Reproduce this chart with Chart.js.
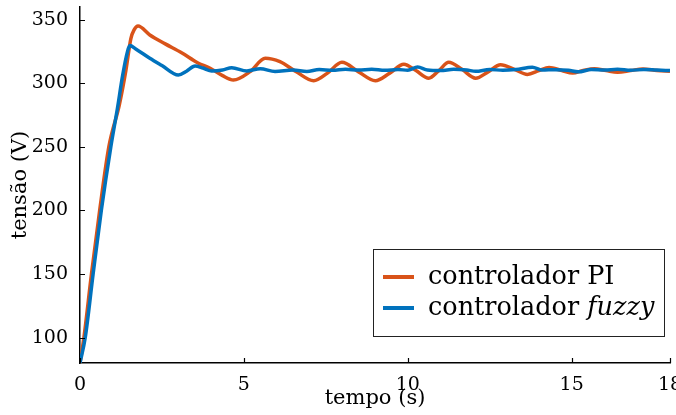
<!DOCTYPE html>
<html>
<head>
<meta charset="utf-8">
<script src="https://cdn.jsdelivr.net/npm/chart.js@4/dist/chart.umd.min.js"></script>
<style>
    html, body { margin: 0; padding: 0; background: #fff; }
    #chart { display: block; }
</style>
</head>
<body>
<canvas id="chart" width="676" height="415"></canvas>
<script>
// tick values
const xTicks = [0, 5, 10, 15, 18];
const yTicks = [100, 150, 200, 250, 300, 350];

// controlador PI
const piTime = [0, 0.12, 0.35, 0.6, 0.88, 1.2, 1.4, 1.55, 1.65, 1.77, 2.13, 2.6, 3.1, 3.6, 3.97, 4.35, 4.68,
    5.19, 5.65, 6.1, 6.6, 7.13, 7.55, 7.99, 8.5, 9.01, 9.45, 9.88, 10.25, 10.64, 10.95, 11.25, 11.65,
    12.07, 12.45, 12.83, 13.25, 13.65, 14.0, 14.31, 14.7, 15.03, 15.35, 15.69, 16.05, 16.4, 16.8, 17.17, 17.6, 18];
const piVolts = [80, 100, 150, 200, 250, 283, 310, 335, 342, 345, 338, 331, 324, 316, 311.8, 306, 302.6,
    309.2, 319.7, 317, 309, 302, 308, 316.5, 309, 302, 308, 315, 310, 304, 310, 316.5, 311,
    304, 309, 314.5, 311, 307, 310, 312.5, 310, 308, 310, 311.5, 310, 308.7, 310, 311.3, 310, 309.5];

// controlador fuzzy
const fuzzyTime = [0, 0.16, 0.4, 0.65, 0.94, 1.14, 1.3, 1.45, 1.52, 1.7, 2.13, 2.5, 3.0, 3.25, 3.51, 3.75, 4.02,
    4.35, 4.63, 5.09, 5.5, 5.95, 6.5, 6.92, 7.3, 7.7, 8.1, 8.5, 8.9, 9.3, 9.7, 10.0, 10.3, 10.6,
    11.0, 11.4, 11.8, 12.07, 12.5, 12.9, 13.3, 13.8, 14.1, 14.5, 14.9, 15.2, 15.6, 16.0, 16.4, 16.8, 17.2, 17.6, 18];
const fuzzyVolts = [80, 100, 150, 200, 250, 280, 306, 325, 329.7, 327, 319.7, 314, 306.5, 309.5, 313.6, 312, 309.7,
    310.5, 312.3, 309.7, 311.5, 309.3, 310.5, 309.3, 310.8, 310.2, 311, 310.4, 311, 310.2, 310.8, 310.3, 312.8, 310.5,
    310, 311, 310.4, 309.4, 310.8, 310.3, 310.9, 312.6, 310.4, 310.7, 310.2, 309, 310.8, 310.4, 311, 310.2, 310.9, 310.4, 310];

const piPoints = piTime.map((t, i) => ({ x: t, y: piVolts[i] }));
const fuzzyPoints = fuzzyTime.map((t, i) => ({ x: t, y: fuzzyVolts[i] }));

const serif = "'DejaVu Serif', 'Liberation Serif', serif";

// inward tick marks on both axes
const innerTicks = {
    id: "innerTicks",
    afterDraw(chart) {
        const ctx = chart.ctx;
        const xs = chart.scales.x, ys = chart.scales.y;
        const area = chart.chartArea;
        ctx.save();
        ctx.strokeStyle = "#000";
        ctx.lineWidth = 1.2;
        ctx.beginPath();
        xTicks.forEach(v => {
            const px = Math.round(xs.getPixelForValue(v)) + 0.5;
            ctx.moveTo(px, area.bottom);
            ctx.lineTo(px, area.bottom - 5);
        });
        yTicks.forEach(v => {
            const py = Math.round(ys.getPixelForValue(v)) + 0.5;
            ctx.moveTo(area.left, py);
            ctx.lineTo(area.left + 5, py);
        });
        ctx.stroke();
        ctx.restore();
    }
};

// boxed legend in the lower right, "fuzzy" in italics
const boxLegend = {
    id: "boxLegend",
    afterDraw(chart) {
        const ctx = chart.ctx;
        const sets = chart.data.datasets;
        const box = { x: 373.5, y: 249.5, w: 291, h: 87 };
        ctx.save();
        ctx.fillStyle = "#fff";
        ctx.fillRect(box.x, box.y, box.w, box.h);
        ctx.strokeStyle = "#222";
        ctx.lineWidth = 1;
        ctx.strokeRect(box.x, box.y, box.w, box.h);

        const rows = [
            { y: 277, parts: [["controlador PI", "normal"]] },
            { y: 308, parts: [["controlador ", "normal"], ["fuzzy", "italic"]] }
        ];
        ctx.textBaseline = "middle";
        ctx.fillStyle = "#000";
        rows.forEach((row, i) => {
            ctx.strokeStyle = sets[i].borderColor;
            ctx.lineWidth = 4;
            ctx.beginPath();
            ctx.moveTo(383, row.y);
            ctx.lineTo(414, row.y);
            ctx.stroke();
            let tx = 428;
            row.parts.forEach(([txt, style]) => {
                ctx.font = style + " 25.5px " + serif;
                ctx.fillText(txt, tx, row.y);
                tx += ctx.measureText(txt).width;
            });
        });
        ctx.restore();
    }
};

new Chart(document.getElementById("chart"), {
    type: "line",
    data: {
        datasets: [
            {
                label: "controlador PI",
                data: piPoints,
                borderColor: "#D95319",
                borderWidth: 3.5,
                pointRadius: 0,
                cubicInterpolationMode: "monotone",
                order: 2
            },
            {
                label: "controlador fuzzy",
                data: fuzzyPoints,
                borderColor: "#0072BD",
                borderWidth: 3.5,
                pointRadius: 0,
                cubicInterpolationMode: "monotone",
                order: 1
            }
        ]
    },
    options: {
        responsive: false,
        animation: false,
        devicePixelRatio: 1,
        layout: { padding: { top: 7, right: 6, left: 0, bottom: 0 } },
        plugins: {
            legend: { display: false },
            tooltip: { enabled: false }
        },
        scales: {
            x: {
                type: "linear",
                min: 0,
                max: 18,
                afterBuildTicks: s => { s.ticks = xTicks.map(v => ({ value: v })); },
                afterFit: s => { s.height = 52; s.paddingLeft = 0; s.paddingRight = 0; },
                grid: { display: false },
                border: { display: true, color: "#000", width: 1.5 },
                ticks: { color: "#000", padding: 3, maxRotation: 0, autoSkip: false, font: { family: serif, size: 19 } },
                title: { display: true, text: "tempo (s)", color: "#000", font: { family: serif, size: 21 }, padding: { top: 0, bottom: 4 } }
            },
            y: {
                min: 80,
                max: 360,
                afterBuildTicks: s => { s.ticks = yTicks.map(v => ({ value: v })); },
                afterFit: s => { s.width = 80; s.paddingTop = 0; s.paddingBottom = 0; },
                grid: { display: false },
                border: { display: true, color: "#000", width: 1.5 },
                ticks: { color: "#000", padding: 4, autoSkip: false, font: { family: serif, size: 19 } },
                title: { display: true, text: "tensão (V)", color: "#000", font: { family: serif, size: 21 }, padding: { top: 8, bottom: 0 } }
            }
        }
    },
    plugins: [innerTicks, boxLegend]
});
</script>
</body>
</html>
